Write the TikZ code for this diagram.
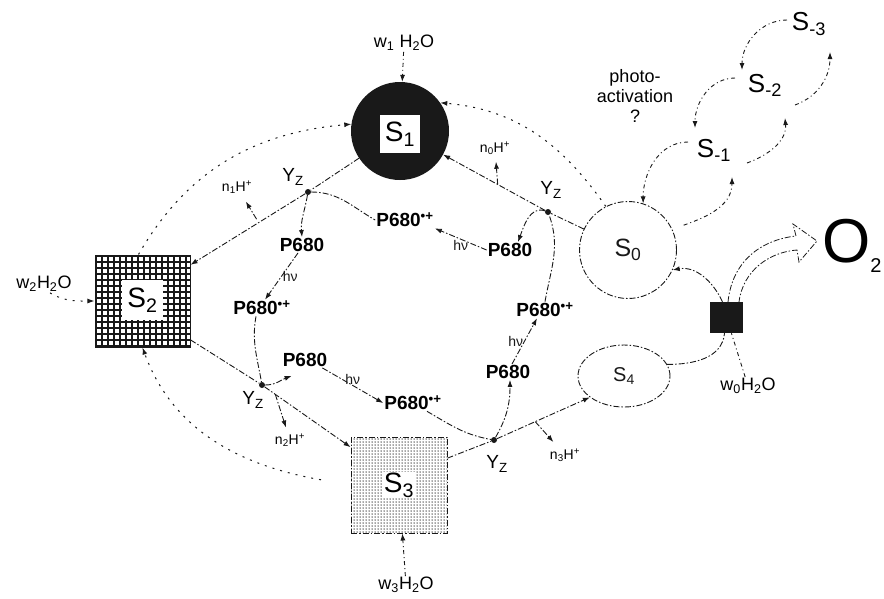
\documentclass[tikz,border=0pt]{standalone}
\usepackage{fontspec}
\setmainfont{Liberation Sans}
\usetikzlibrary{arrows.meta,calc,patterns.meta,shapes.geometric}
\tikzset{>={Latex[length=7pt,width=5pt]}}
\colorlet{ink}{black!90}
\tikzstyle{conn}=[ink,line width=0.9pt,dash pattern=on 6pt off 2pt on 1.5pt off 2pt]
\tikzstyle{arcline}=[ink,line width=1pt,dash pattern=on 2pt off 6pt]
\tikzstyle{loopline}=[ink,line width=0.9pt,dash pattern=on 4pt off 3pt on 1pt off 3pt]
\tikzstyle{stlabel}=[font=\fontsize{28}{28}\selectfont,inner sep=0pt]
\tikzstyle{pig}=[font=\bfseries\fontsize{19}{19}\selectfont,inner sep=1pt]
\tikzstyle{tyr}=[font=\fontsize{19}{19}\selectfont,inner sep=1pt]
\tikzstyle{tyrdot}=[circle,fill=ink,minimum size=6pt,inner sep=0pt]
\tikzstyle{hlabel}=[font=\fontsize{14}{14}\selectfont,inner sep=1pt]
\tikzstyle{water}=[font=\fontsize{18}{18}\selectfont,inner sep=1pt]

\begin{document}
\begin{tikzpicture}[x=1pt,y=-1pt]
  \useasboundingbox (0,0) rectangle (884,598);
  % the S states
  \node[circle,fill=ink,minimum size=98pt] (S1) at (400,131) {};
  \node[stlabel,fill=white,minimum width=40pt,minimum height=38pt] (S1l) at (400,134) {S\textsubscript{1}};
  \node[draw=ink,line width=0.8pt,pattern={Hatch[angle=0,distance=6pt,line width=1.1pt]},pattern color=ink,
    minimum width=95pt,minimum height=92pt] (S2) at (142.5,301) {};
  \node[stlabel,fill=white,minimum width=41pt,minimum height=40pt] (S2l) at (142.5,300) {S\textsubscript{2}};
  \node[conn,draw,pattern={Dots[distance=3pt,radius=0.75pt]},pattern color=ink!80,
    minimum width=96pt,minimum height=96pt] (S3) at (399,485) {};
  \node[stlabel,fill=white,inner sep=1pt] (S3l) at (399,485) {S\textsubscript{3}};
  \node[conn,draw,circle,minimum size=97pt,font=\fontsize{25}{25}\selectfont] (S0) at (628,250) {S\textsubscript{0}};
  \node[conn,draw,ellipse,minimum width=92pt,minimum height=62pt,font=\fontsize{20}{20}\selectfont] (S4) at (624,376) {S\textsubscript{4}};
  \node[fill=ink,minimum width=33pt,minimum height=31pt,inner sep=0pt] (OEC) at (726.5,317.5) {};
  \node[anchor=base west,inner sep=0pt,font=\fontsize{62}{62}\selectfont] (O2) at (822,262)
    {O\raisebox{-10pt}{\fontsize{20}{20}\selectfont 2}};
  \node[font=\fontsize{26}{26}\selectfont,inner sep=1pt] (Sm1) at (714,150) {S\textsubscript{-1}};
  \node[font=\fontsize{26}{26}\selectfont,inner sep=1pt] (Sm2) at (765,85) {S\textsubscript{-2}};
  \node[font=\fontsize{26}{26}\selectfont,inner sep=1pt] (Sm3) at (809,24) {S\textsubscript{-3}};
  \node[align=center,font=\fontsize{18}{20}\selectfont] (photo) at (635,96) {photo-\\activation\\?};

  % water
  \node[water] (w1) at (404,43) {w\textsubscript{1} H\textsubscript{2}O};
  \node[water] (w2) at (44,284) {w\textsubscript{2}H\textsubscript{2}O};
  \node[water] (w3) at (406,585) {w\textsubscript{3}H\textsubscript{2}O};
  \node[water] (w0) at (748,386) {w\textsubscript{0}H\textsubscript{2}O};

  % tyrosine Yz
  \node[tyrdot] (YA) at (308,192) {};
  \node[tyrdot] (YB) at (548,212) {};
  \node[tyrdot] (YC) at (262,385) {};
  \node[tyrdot] (YD) at (494,440) {};
  \node[tyr] (YAl) at (293,177) {Y\textsubscript{Z}};
  \node[tyr] (YBl) at (551,190) {Y\textsubscript{Z}};
  \node[tyr] (YCl) at (253,400) {Y\textsubscript{Z}};
  \node[tyr] (YDl) at (497,464) {Y\textsubscript{Z}};

  % P680
  \node[pig] (PA) at (302,245) {P680};
  \node[pig] (PAp) at (262,308) {P680\textsuperscript{•+}};
  \node[pig] (PB) at (510,250) {P680};
  \node[pig] (PBp) at (405,220) {P680\textsuperscript{•+}};
  \node[pig] (PC) at (305,360) {P680};
  \node[pig] (PCp) at (413,403) {P680\textsuperscript{•+}};
  \node[pig] (PD) at (508,372) {P680};
  \node[pig] (PDp) at (545,310) {P680\textsuperscript{•+}};

  % protons
  \node[hlabel] (n0) at (495,148) {n\textsubscript{0}H\textsuperscript{+}};
  \node[hlabel] (n1) at (237,187) {n\textsubscript{1}H\textsuperscript{+}};
  \node[hlabel] (n2) at (290,440) {n\textsubscript{2}H\textsuperscript{+}};
  \node[hlabel] (n3) at (565,455) {n\textsubscript{3}H\textsuperscript{+}};

  % main cycle
  \draw[conn,->] (S0) -- (YB) -- (S1);
  \draw[conn,->] (S1) -- (YA) -- (S2.37);
  \draw[conn,->] (S2.-39) -- (YC) -- (S3.142);
  \draw[conn,->] (S3.29) -- (YD) -- (S4.212);
  \draw[conn] (S4.15) to[out=0,in=-95] ([xshift=-2pt]OEC.south);
  \draw[conn,->] ([xshift=-4pt]OEC.north) to[out=115,in=10] (S0.-24);
  \draw[loopline] (w0) -- (OEC);
  % O2 release
  \draw[conn,line width=0.8pt] (728,302) .. controls (732,262) and (760,240) .. (796,236) -- (793,224)
    -- (817,241) -- (799,262) -- (797,250) .. controls (770,252) and (743,270) .. (739,302);

  % proton release
  \coordinate (h0) at ($(YB)!0.34!(S1)$);
  \coordinate (h1) at ($(YA)!0.42!(S2.37)$);
  \coordinate (h2) at ($(YC)!0.15!(S3.142)$);
  \coordinate (h3) at ($(YD)!0.43!(S4.212)$);
  \draw[conn,->,shorten >=6pt] (h0) -- (n0);
  \draw[conn,->,shorten <=4pt,shorten >=8pt] (h1) -- (n1);
  \draw[conn,->,shorten >=5pt] (h2) -- (n2);
  \draw[conn,->,shorten >=7pt] (h3) -- (n3);

  % electron transfer
  \draw[conn,->] (YA) to[out=-100,in=95] (PA.north);
  \draw[conn,->] ([xshift=-4pt]PA.south) -- ([xshift=3pt]PAp.north) node[midway,right,hlabel] {hν};
  \draw[conn] ([xshift=-6pt]PAp.south) to[out=-100,in=100] (YC);
  \draw[conn,->] (YC) to[out=0,in=-160] ($(PC.south west)+(10,8)$);
  \draw[conn,->] ([xshift=-6pt]PC.south east) -- (PCp.west) node[midway,above,hlabel] {hν};
  \draw[conn] ([xshift=14pt]PCp.south) to[out=-30,in=170] (YD);
  \draw[conn,->] (YD) to[out=60,in=-90] ([xshift=2pt]PD.south);
  \draw[conn,->] ([xshift=4pt]PD.north) -- ([xshift=-8pt]PDp.south) node[midway,left,hlabel] {hν};
  \draw[conn] (PDp.north) to[out=80,in=-70] (YB);
  \draw[conn,->] (YB) to[out=160,in=70] ([xshift=8pt]PB.north);
  \draw[conn,->] (PB.west) -- (PBp.south east) node[midway,below,hlabel] {hν};
  \draw[conn] (YA) to[out=0,in=150] (PBp.west);

  % water binding
  \draw[loopline,->] (w1) -- (S1);
  \draw[arcline,->] ([xshift=6pt]w2.south) to[out=-30,in=180] (S2.west);
  \draw[loopline,->] (w3) -- (S3);

  % back reactions
  \draw[arcline,->] ([xshift=-4pt]S2.north) to[out=60,in=185] (S1.172);
  \draw[arcline,->] (S0.117) to[out=125,in=-5] (S1.35);
  \draw[arcline,->,shorten <=30pt] (S3.west) to[out=170,in=-70] (S2.south);

  % photoactivation
  \draw[loopline,->] ($(Sm1)+(-26,-8)$) to[out=180,in=90] (S0.72);
  \draw[loopline,->,shorten <=12pt] (S0.25) to[out=20,in=-90] ($(Sm1)+(18,27)$);
  \draw[loopline,->] ($(Sm2)+(-30,-7)$) to[out=180,in=90] ($(Sm1)+(-19,-22)$);
  \draw[loopline,->] ($(Sm1)+(33,13)$) to[out=20,in=-85] ($(Sm2)+(20,33)$);
  \draw[loopline,->] ($(Sm3)+(-22,-4)$) to[out=180,in=90] ($(Sm2)+(-23,-15)$);
  \draw[loopline,->] ($(Sm2)+(30,20)$) to[out=20,in=-90] ($(Sm3)+(21,28)$);
\end{tikzpicture}
\end{document}
